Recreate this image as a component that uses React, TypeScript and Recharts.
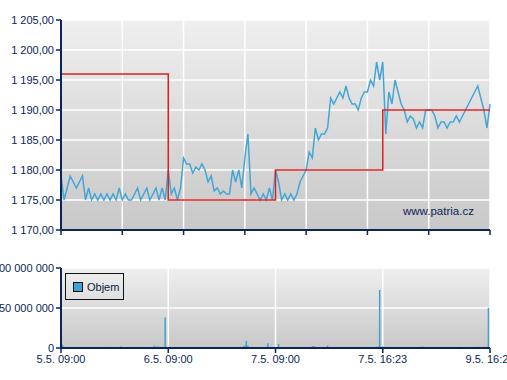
import React from 'react';
import { LineChart, Line, BarChart, Bar, XAxis, YAxis, CartesianGrid } from 'recharts';

// price ticks every 2 index units (0..280)
const priceVals = [
  1179, 1175, 1177, 1179, 1178, 1177, 1178, 1179, 1175, 1177,
  1175, 1176, 1175, 1176, 1175, 1176, 1175, 1176, 1175, 1177,
  1175, 1176, 1175, 1175, 1176, 1177, 1175, 1176, 1177, 1175,
  1176, 1177, 1175, 1177, 1175, 1180, 1176, 1177, 1175, 1177,
  1182, 1181, 1181, 1179.5, 1180.5, 1180, 1181, 1180, 1178, 1179,
  1176.5, 1177, 1176, 1176.5, 1176, 1176, 1180, 1178, 1180, 1177,
  1182, 1186, 1176, 1177, 1176, 1175, 1176, 1175, 1177, 1175,
  1180, 1178, 1175, 1176, 1175, 1176, 1175, 1176, 1178, 1179,
  1180, 1183, 1182, 1187, 1185, 1186, 1186, 1187, 1192, 1191,
  1192, 1193, 1192, 1194, 1192, 1191, 1191, 1190, 1192, 1193,
  1193, 1195, 1194, 1198, 1195, 1198, 1186, 1193, 1191, 1195,
  1193, 1191, 1190, 1188, 1189, 1188.5, 1187, 1188, 1187, 1190,
  1190, 1190, 1189, 1187, 1188, 1188, 1187, 1188, 1188, 1189,
  1188, 1189, 1190, 1191, 1192, 1193, 1194, 1192, 1190, 1187,
  1191,
];

// previous close (red step line)
const refX = [0, 70, 140, 210, 280];
const refVals = [1196, 1175, 1180, 1190, 1190];

const priceTicks = [1170, 1175, 1180, 1185, 1190, 1195, 1200, 1205];
const topGridX = [0, 40, 80, 120, 160, 200, 240, 280];

const timeX = [0, 70, 140, 210, 280];
const timeLabels = ['5.5. 09:00', '6.5. 09:00', '7.5. 09:00', '7.5. 16:23', '9.5. 16:23'];

const volX = [
  0, 1, 2, 5, 8, 10, 13, 15, 32, 33, 39, 48, 50, 52, 61, 63, 64, 67, 68, 72,
  84, 85, 119, 120, 121, 122, 133, 135, 142, 151, 154, 160, 164, 165, 166, 174,
  185, 200, 203, 206, 207, 208, 210, 212, 225, 228, 234, 236, 251, 260, 264,
  267, 271, 273, 275, 277, 279,
];
const volVals = [
  6700000, 4000000, 1000000, 1000000, 1000000, 1000000, 1000000, 1000000, 1500000, 1000000,
  2000000, 1000000, 1000000, 1000000, 3000000, 2000000, 1500000, 1000000, 38000000, 1000000,
  1000000, 1000000, 2000000, 3000000, 8800000, 3000000, 1000000, 5800000, 5000000, 1000000,
  1000000, 1000000, 2000000, 2500000, 1500000, 3000000,
  1000000, 1000000, 1000000, 1500000, 2000000, 72500000, 2000000, 1500000, 1000000, 1000000,
  1500000, 2000000, 1000000, 1500000, 1000000,
  1000000, 1500000, 1500000, 1000000, 1500000, 50000000,
];
const volTicks = [0, 50000000, 100000000];

const NAVY = '#0b2557';
const FONT = '"Liberation Sans", Arial, sans-serif';
const NBSP = '\u00A0';

const priceRows = priceVals.map((p, i) => {
  const k = refX.indexOf(i * 2);
  return { x: i * 2, price: p, ref: k >= 0 ? refVals[k] : null };
});
const volRows = volX.map((x, i) => ({ x, v: volVals[i] }));

const fmtPrice = (v: number) => {
  const th = Math.floor(v / 1000);
  const rest = String(Math.round(v % 1000)).padStart(3, '0');
  return `${th}${NBSP}${rest},00`;
};
const fmtVol = (v: number) => String(v).replace(/\B(?=(\d{3})+(?!\d))/g, NBSP);

const tickStyle = { fill: NAVY, fontSize: 11, fontFamily: FONT };

export default function App() {
  return (
    <div style={{ position: 'absolute', left: 0, top: 0, width: 507, height: 380, background: '#fff', overflow: 'hidden' }}>
      <LineChart width={507} height={240} data={priceRows} margin={{ top: 20, right: 17, left: 0, bottom: 0 }}>
        <defs>
          <linearGradient id="bgTop" x1="0" y1="0" x2="0" y2="1">
            <stop offset="0%" stopColor="#efefef" />
            <stop offset="100%" stopColor="#c8c8c8" />
          </linearGradient>
        </defs>
        <CartesianGrid fill="url(#bgTop)" stroke="#ffffff" strokeWidth={1.5} />
        <XAxis
          type="number"
          dataKey="x"
          domain={[0, 280]}
          ticks={topGridX}
          interval={0}
          height={10}
          tickSize={5}
          tickFormatter={() => ''}
          axisLine={{ stroke: NAVY, strokeWidth: 2 }}
          tickLine={{ stroke: NAVY, strokeWidth: 1.5 }}
        />
        <YAxis
          domain={[1170, 1205]}
          ticks={priceTicks}
          interval={0}
          width={61}
          tickSize={5}
          tickFormatter={fmtPrice}
          tick={tickStyle}
          axisLine={{ stroke: NAVY, strokeWidth: 2 }}
          tickLine={{ stroke: NAVY, strokeWidth: 1.5 }}
        />
        <Line dataKey="price" type="linear" stroke="#44a6d6" strokeWidth={1.5} dot={false} isAnimationActive={false} />
        <Line dataKey="ref" type="stepAfter" connectNulls stroke="#dd2020" strokeWidth={1.5} dot={false} isAnimationActive={false} />
      </LineChart>
      <div style={{ position: 'absolute', left: 403, top: 205, fontFamily: FONT, fontSize: 11.5, color: NAVY }}>www.patria.cz</div>

      <div style={{ position: 'absolute', left: 0, top: 240 }}>
        <BarChart width={507} height={140} data={volRows} margin={{ top: 28, right: 17, left: 0, bottom: 0 }}>
          <defs>
            <linearGradient id="bgBot" x1="0" y1="0" x2="0" y2="1">
              <stop offset="0%" stopColor="#efefef" />
              <stop offset="100%" stopColor="#c8c8c8" />
            </linearGradient>
          </defs>
          <CartesianGrid fill="url(#bgBot)" stroke="#ffffff" strokeWidth={1.5} />
          <XAxis
            type="number"
            dataKey="x"
            domain={[0, 280]}
            ticks={timeX}
            interval={0}
            height={32}
            tickSize={5}
            tickFormatter={(v: number) => timeLabels[timeX.indexOf(v)]}
            tick={tickStyle}
            axisLine={{ stroke: NAVY, strokeWidth: 2 }}
            tickLine={{ stroke: NAVY, strokeWidth: 1.5 }}
          />
          <YAxis
            domain={[0, 100000000]}
            ticks={volTicks}
            interval={0}
            width={61}
            tickSize={5}
            tickFormatter={fmtVol}
            tick={tickStyle}
            axisLine={{ stroke: NAVY, strokeWidth: 2 }}
            tickLine={{ stroke: NAVY, strokeWidth: 1.5 }}
          />
          <Bar dataKey="v" fill="#3fa2d4" barSize={1.5} isAnimationActive={false} />
        </BarChart>
        <div
          style={{
            position: 'absolute', left: 65, top: 33, width: 59, height: 27,
            border: '1px solid #111', boxSizing: 'border-box', fontFamily: FONT, fontSize: 11,
            color: '#0b1a3a', display: 'flex', alignItems: 'center',
          }}
        >
          <span style={{ display: 'inline-block', width: 8, height: 8, background: '#3fa2d4', border: '1px solid #111', marginLeft: 7, marginRight: 4 }} />
          Objem
        </div>
      </div>
    </div>
  );
}
